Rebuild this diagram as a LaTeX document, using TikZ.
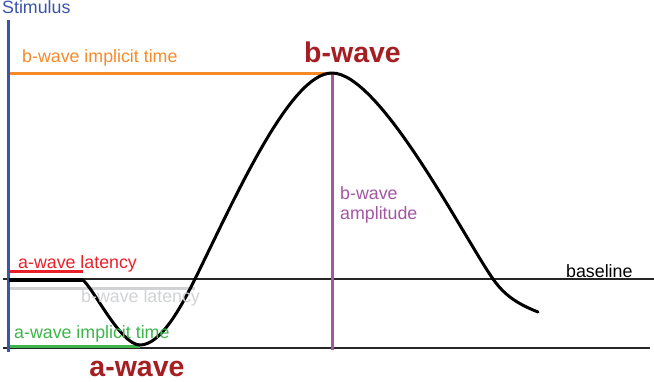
\documentclass[tikz,border=0pt]{standalone}
\usepackage{fontspec}
\setmainfont{Liberation Sans}
\definecolor{stimblue}{HTML}{3A55A8}
\definecolor{borange}{HTML}{F58A2A}
\definecolor{wavered}{HTML}{A51E22}
\definecolor{amppurple}{HTML}{A455A4}
\definecolor{latred}{HTML}{E8202A}
\definecolor{latgray}{HTML}{D0D2D4}
\definecolor{agreen}{HTML}{3DB54A}
\begin{document}
\begin{tikzpicture}[x=1pt,y=-1pt,
  lbl/.style={inner sep=0pt,anchor=base west,font=\fontsize{17.8}{20}\selectfont},
  big/.style={inner sep=0pt,anchor=base,text depth=0pt,font=\fontsize{28.5}{32}\selectfont\bfseries,text=wavered},
  thinblack/.style={draw=black!85,line width=1.4pt},
  marker/.style={line width=3pt}]
\useasboundingbox (0,0) rectangle (654,381);
% coordinates
\coordinate (stimtop) at (8.5,20);
\coordinate (stimbot) at (8.5,352);
\coordinate (peak) at (332,73);
\coordinate (orangeL) at (8.5,73);
\coordinate (ampbot) at (332,350);
\coordinate (baseL) at (3,279);
\coordinate (baseR) at (654,279);
\coordinate (botL) at (3,348);
\coordinate (botR) at (650,348);
\coordinate (redL) at (8.5,271);
\coordinate (redR) at (83,271);
\coordinate (grayL) at (8.5,288.5);
\coordinate (grayR) at (195,288.5);
\coordinate (greenL) at (8.5,346);
\coordinate (greenR) at (140,346);
\coordinate (flatL) at (8.5,279.5);
\coordinate (flatR) at (82,279.5);
\coordinate (amin) at (140,345);
\coordinate (cross1) at (195,279);
\coordinate (cross2) at (493,279);
\coordinate (tail) at (538,312);
% thin reference lines
\draw[thinblack] (baseL) -- (baseR);
\draw[thinblack] (botL) -- (botR);
% marker lines
\draw[marker,draw=latgray] (grayL) -- (grayR);
\draw[marker,draw=latred] (redL) -- (redR);
\draw[marker,draw=agreen] (greenL) -- (greenR);
\draw[marker,draw=borange] (orangeL) -- (peak);
\draw[marker,draw=amppurple] (peak) -- (ampbot);
\draw[line width=3.2pt,draw=stimblue] (stimtop) -- (stimbot);
% waveform
\draw[line width=4pt,line cap=butt] (flatL) -- (flatR);
\draw[line width=3pt,line cap=round,line join=round]
  (flatR) .. controls (92,285) and (120,345) .. (amin)
  .. controls (160,345) and (180,309.4) .. (cross1)
  .. controls (235,198) and (290,73) .. (peak)
  .. controls (380,73) and (463,236) .. (cross2)
  .. controls (505,296) and (518,304) .. (tail);
% labels
\node[lbl,text=stimblue] (stim) at (2,13.5) {Stimulus};
\node[lbl,text=borange] (bimp) at (22,62) {b-wave implicit time};
\node[big] (bwave) at (352.5,62) {b-wave};
\node[big] (awave) at (137,376.5) {a-wave};
\node[lbl,text=amppurple,align=left,anchor=north west] (bamp) at (340,186.5) {b-wave\\[-0.5pt]amplitude};
\node[lbl,text=latred] (alat) at (18,268) {a-wave latency};
\node[lbl,text=latgray] (blat) at (81,302.5) {b-wave latency};
\node[lbl,text=agreen] (aimp) at (14,338) {a-wave implicit time};
\node[lbl,text=black] (basel) at (566,277) {baseline};
\end{tikzpicture}
\end{document}
